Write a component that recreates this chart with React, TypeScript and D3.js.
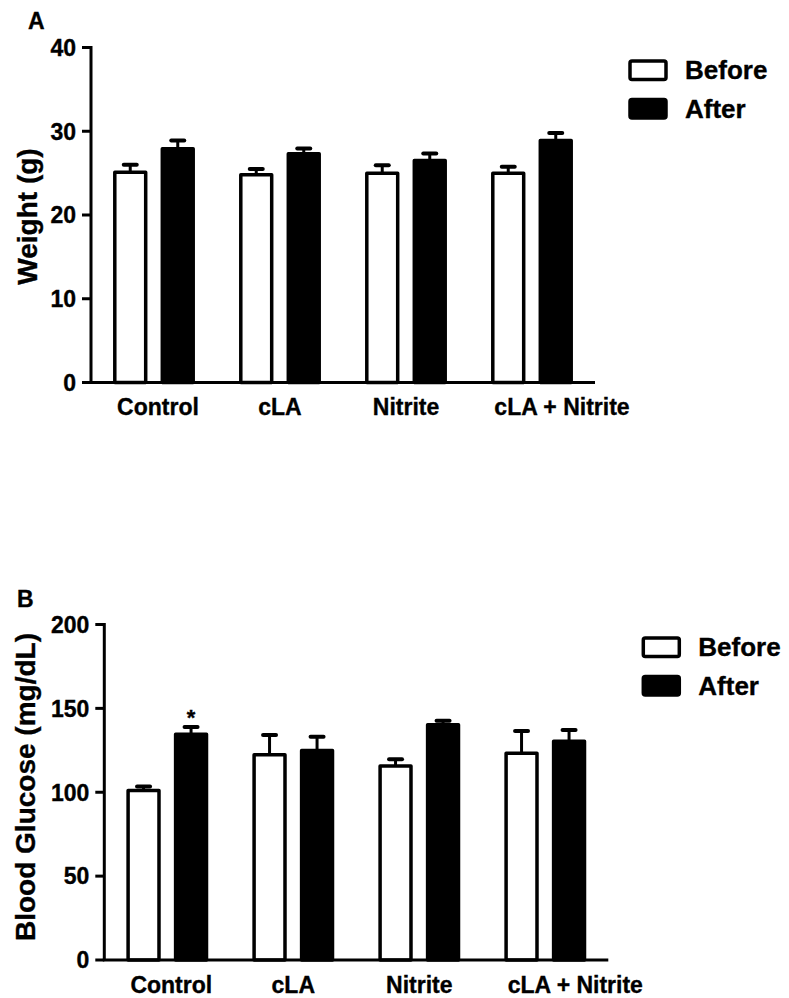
import React from "react";
import * as d3 from "d3";

const categories = ["Control", "cLA", "Nitrite", "cLA + Nitrite"];
const seriesNames = ["Before", "After"];

const weightBefore = [25.1, 24.8, 25.0, 25.0];
const weightBeforeErr = [0.9, 0.7, 0.95, 0.75];
const weightAfter = [27.9, 27.3, 26.5, 28.9];
const weightAfterErr = [1.0, 0.65, 0.85, 0.9];
const weightTicks = [0, 10, 20, 30, 40];

const glucoseBefore = [101, 122.3, 115.7, 123.2];
const glucoseBeforeErr = [2.4, 11.8, 3.9, 13.3];
const glucoseAfter = [134.6, 124.9, 140.2, 130.4];
const glucoseAfterErr = [4.3, 8.2, 2.4, 6.7];
const glucoseTicks = [0, 50, 100, 150, 200];
const glucoseStars = ["*", "", "", ""];

const FONT = "'Liberation Sans', Arial, Helvetica, sans-serif";
const TXT = { fontWeight: "bold", fontFamily: FONT, stroke: "#000", strokeWidth: 0.35 } as const;

type PanelProps = {
  x0: number;
  x1: number;
  yTop: number;
  yBottom: number;
  ticks: number[];
  before: number[];
  beforeErr: number[];
  after: number[];
  afterErr: number[];
  yTitle: string;
  titleX: number;
  titleY: number;
  letter: string;
  letterX: number;
  letterY: number;
  stars?: string[];
};

function Panel(p: PanelProps) {
  const yMax = p.ticks[p.ticks.length - 1];
  const x = d3.scaleBand<string>().domain(categories).range([p.x0, p.x1]).padding(0);
  const xs = d3
    .scaleBand<string>()
    .domain(seriesNames)
    .range([0, x.bandwidth()])
    .paddingInner(0.276)
    .paddingOuter(0.464);
  const y = d3.scaleLinear().domain([0, yMax]).range([p.yBottom, p.yTop]);
  const sw = 3.5;
  const bw = xs.bandwidth();
  const labelNudge = [4, 0, 0, 30];

  const bars: any[] = [];
  categories.forEach((c, i) => {
    seriesNames.forEach((s, j) => {
      const v = j === 0 ? p.before[i] : p.after[i];
      const e = j === 0 ? p.beforeErr[i] : p.afterErr[i];
      const bx = (x(c) as number) + (xs(s) as number);
      const cx = bx + bw / 2;
      bars.push(
        <g key={c + s}>
          <line x1={cx} x2={cx} y1={y(v)} y2={y(v + e)} stroke="#000" strokeWidth={3} />
          <line
            x1={cx - 6.5}
            x2={cx + 6.5}
            y1={y(v + e)}
            y2={y(v + e)}
            stroke="#000"
            strokeWidth={4}
            strokeLinecap="round"
          />
          <rect
            x={bx + sw / 2}
            y={y(v)}
            width={bw - sw}
            height={p.yBottom - y(v)}
            fill={j === 0 ? "#fff" : "#000"}
            stroke="#000"
            strokeWidth={sw}
            strokeLinejoin="round"
          />
          {j === 1 && p.stars && p.stars[i] ? (
            <text x={cx} y={y(v + e) - 1.5} textAnchor="middle" fontSize={22} {...TXT}>
              {p.stars[i]}
            </text>
          ) : null}
        </g>
      );
    });
  });

  return (
    <g>
      <text x={p.letterX} y={p.letterY} fontSize={23} {...TXT}>
        {p.letter}
      </text>
      <text
        transform={`translate(${p.titleX},${p.titleY}) rotate(-90)`}
        textAnchor="middle"
        fontSize={28}
        {...TXT}
      >
        {p.yTitle}
      </text>
      {p.ticks.map((t) => (
        <g key={t}>
          <line x1={p.x0 - 9} x2={p.x0} y1={y(t)} y2={y(t)} stroke="#000" strokeWidth={3} />
          <text x={p.x0 - 15} y={y(t)} dy="0.36em" textAnchor="end" fontSize={23} {...TXT}>
            {t}
          </text>
        </g>
      ))}
      {bars}
      <line x1={p.x0} x2={p.x0} y1={p.yTop - 1.5} y2={p.yBottom} stroke="#000" strokeWidth={3} />
      <line x1={p.x0 - 1.5} x2={p.x1} y1={p.yBottom} y2={p.yBottom} stroke="#000" strokeWidth={3} />
      {categories.map((c, i) => (
        <text
          key={c}
          x={(x(c) as number) + x.bandwidth() / 2 + labelNudge[i]}
          y={p.yBottom + 32.5}
          textAnchor="middle"
          fontSize={23}
          {...TXT}
        >
          {c}
        </text>
      ))}
      {seriesNames.map((s, j) => (
        <g key={s}>
          <rect
            x={p.x1 + 35}
            y={p.yTop + (j === 0 ? 13.5 : 52)}
            width={36}
            height={18.5}
            rx={2}
            fill={j === 0 ? "#fff" : "#000"}
            stroke="#000"
            strokeWidth={sw}
          />
          <text x={p.x1 + 90} y={p.yTop + (j === 0 ? 31.5 : 70)} fontSize={26} {...TXT}>
            {s}
          </text>
        </g>
      ))}
    </g>
  );
}

export default function App() {
  return (
    <svg
      width={789}
      height={998}
      viewBox="0 0 789 998"
      style={{ position: "absolute", left: 0, top: 0, background: "#fff" }}
    >
      <rect x={0} y={0} width={789} height={998} fill="#fff" />
      <Panel
        x0={91}
        x1={595}
        yTop={47.5}
        yBottom={382.5}
        ticks={weightTicks}
        before={weightBefore}
        beforeErr={weightBeforeErr}
        after={weightAfter}
        afterErr={weightAfterErr}
        yTitle="Weight (g)"
        titleX={36.5}
        titleY={216.5}
        letter="A"
        letterX={28}
        letterY={28.5}
      />
      <Panel
        x0={104.3}
        x1={608.3}
        yTop={624.5}
        yBottom={960}
        ticks={glucoseTicks}
        before={glucoseBefore}
        beforeErr={glucoseBeforeErr}
        after={glucoseAfter}
        afterErr={glucoseAfterErr}
        yTitle="Blood Glucose (mg/dL)"
        titleX={35}
        titleY={787}
        letter="B"
        letterX={17}
        letterY={607}
        stars={glucoseStars}
      />
    </svg>
  );
}
